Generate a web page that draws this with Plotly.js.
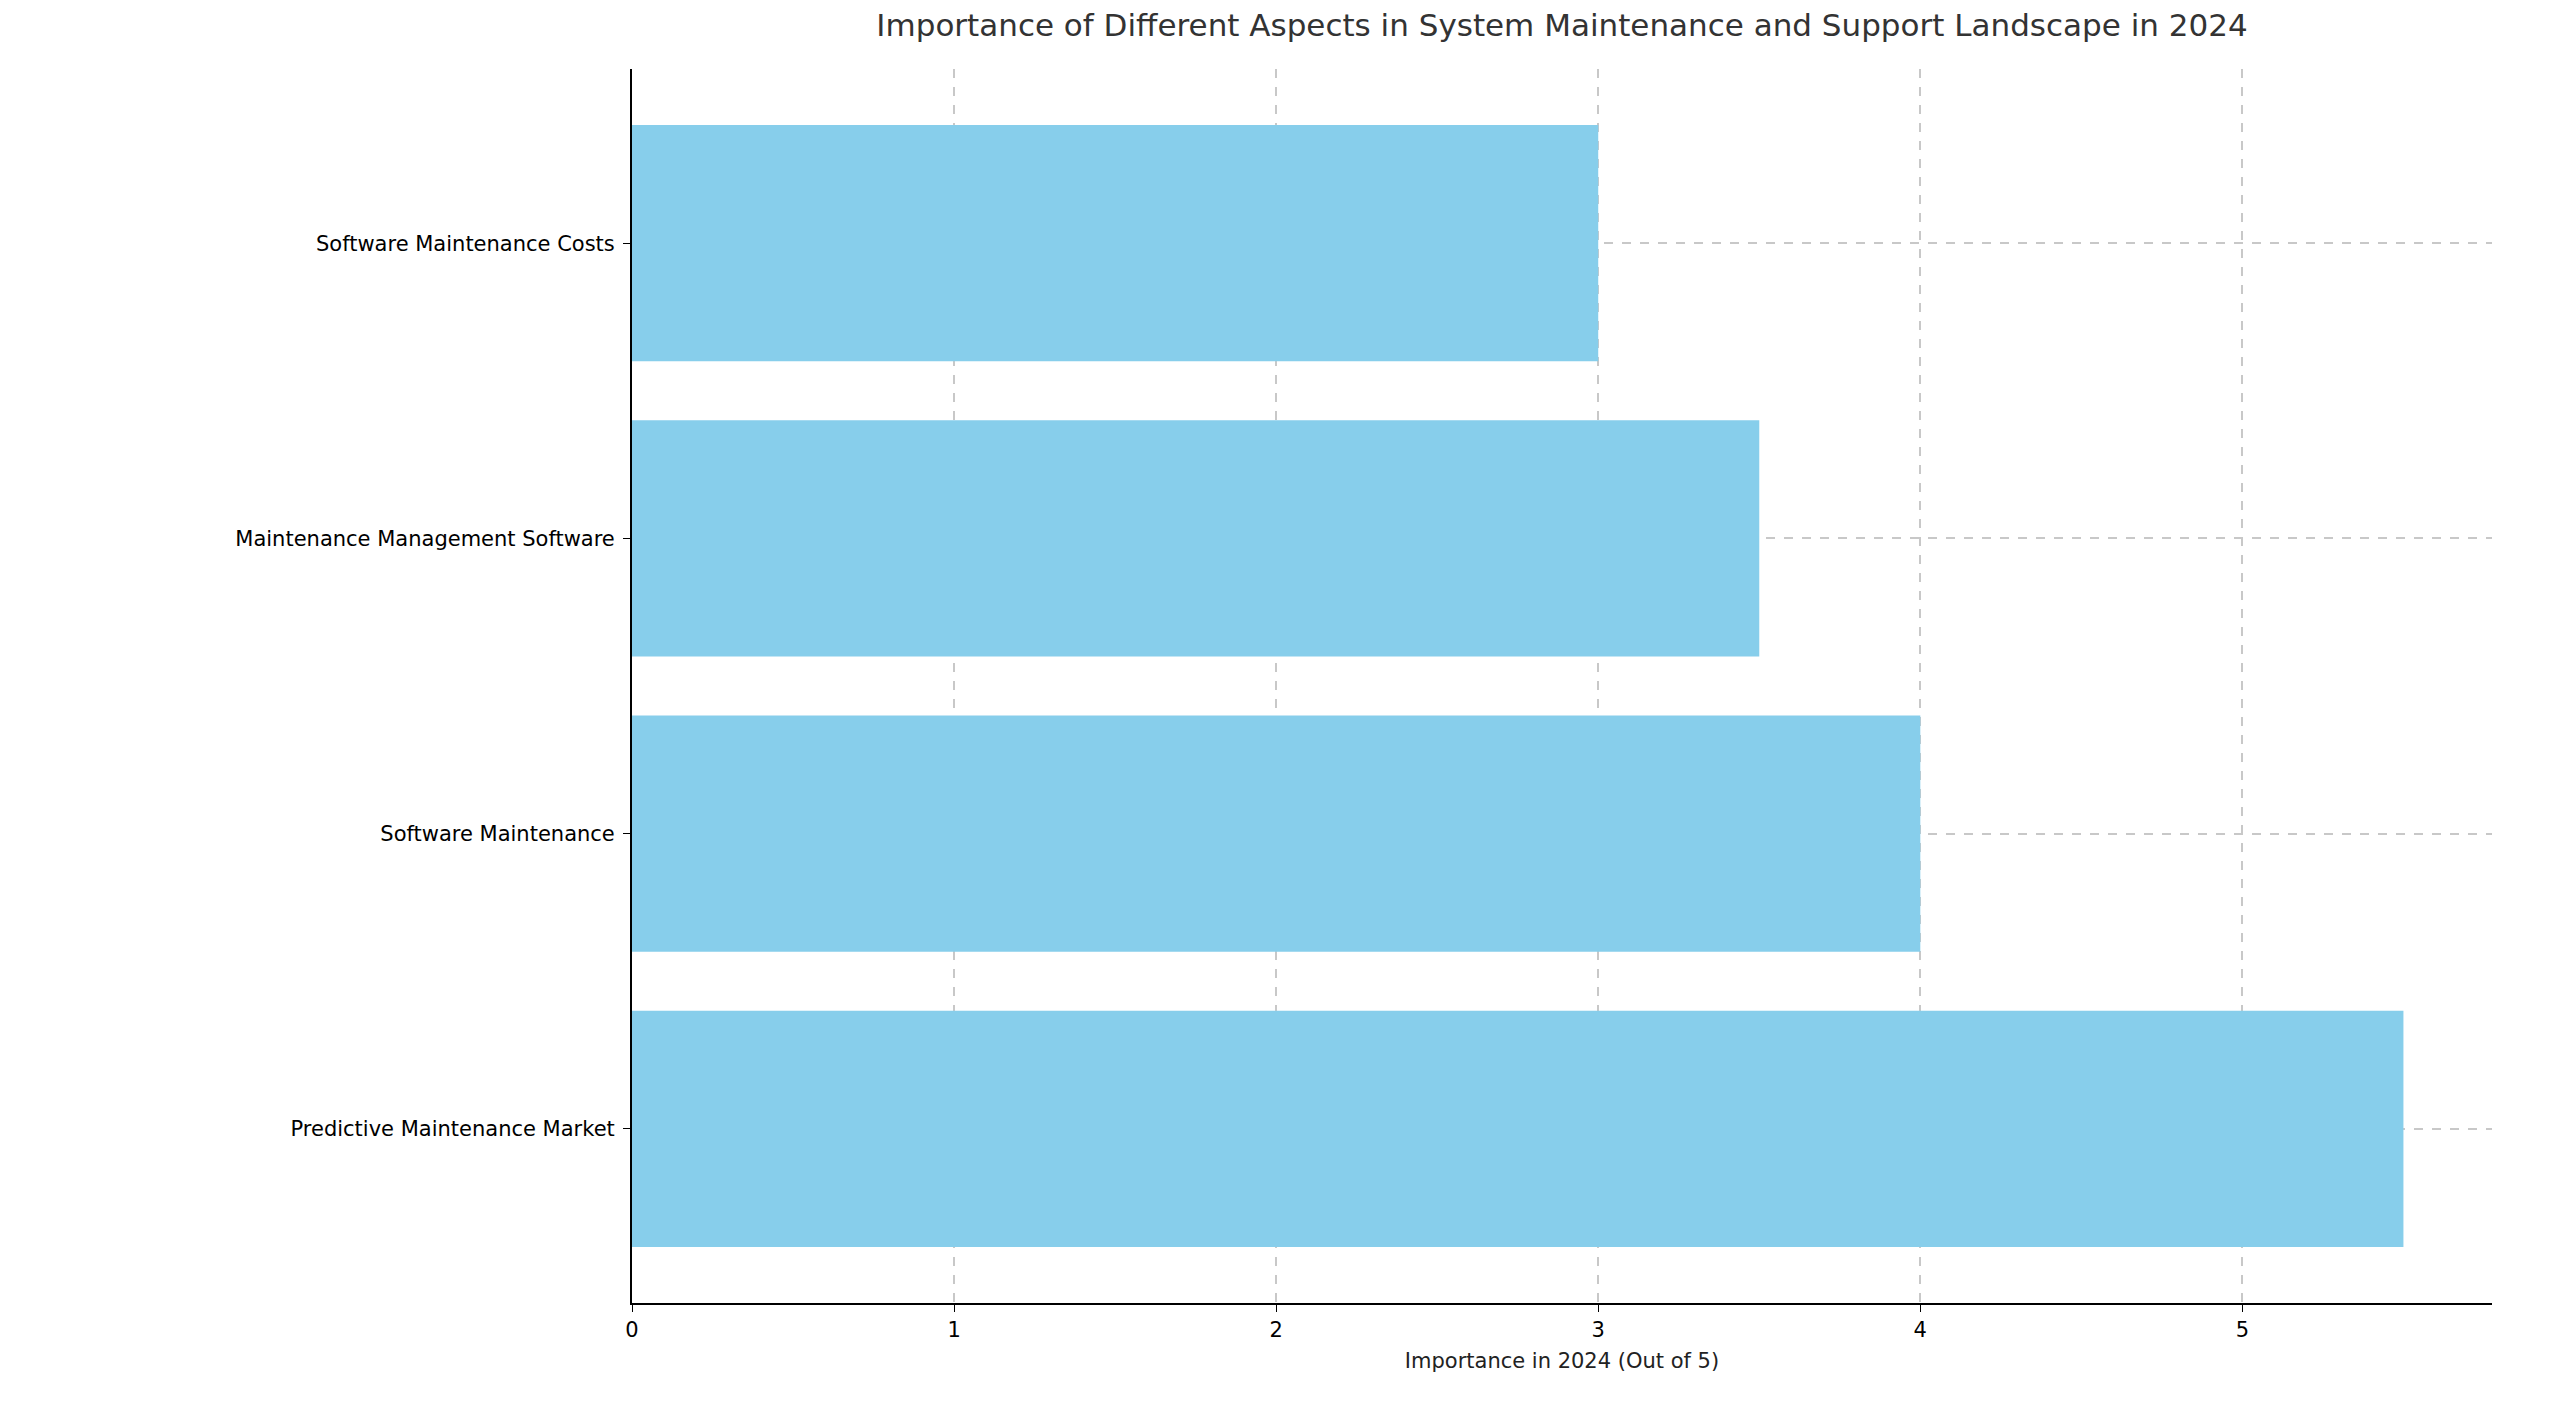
<!DOCTYPE html>
<html>
<head>
<meta charset="utf-8">
<script src="https://cdn.plot.ly/plotly-3.0.1.min.js"></script>
<style>html,body{margin:0;padding:0;background:#fff;}#plot{width:2566px;height:1409px;}</style>
</head>
<body>
<div id="plot"></div>
<script>
const categories = ['Predictive Maintenance Market', 'Software Maintenance', 'Maintenance Management Software', 'Software Maintenance Costs'];
const importance = [5.5, 4, 3.5, 3];
const xTicks = [0, 1, 2, 3, 4, 5];

const font = 'DejaVu Sans, sans-serif';

Plotly.newPlot('plot', [{
    type: 'bar',
    orientation: 'h',
    x: importance,
    y: categories,
    width: 0.8,
    marker: { color: '#87CEEB' },
    hoverinfo: 'skip'
}], {
    width: 2566,
    height: 1409,
    margin: { l: 632, r: 74, t: 69, b: 106 },
    paper_bgcolor: '#fff',
    plot_bgcolor: '#fff',
    font: { family: font, size: 21, color: '#000' },
    title: {
        text: 'Importance of Different Aspects in System Maintenance and Support Landscape in 2024',
        font: { family: font, size: 31, color: '#333' },
        x: 0.5, xref: 'paper', y: 0.99, yref: 'container', yanchor: 'top'
    },
    xaxis: {
        range: [0, 5.775],
        tickvals: xTicks,
        ticks: 'outside', ticklen: 7, tickcolor: '#000',
        showline: true, linecolor: '#000', linewidth: 2,
        showgrid: true, gridcolor: '#c8c8c8', griddash: 'dash', gridwidth: 1.5,
        zeroline: false,
        layer: 'above traces',
        title: { text: 'Importance in 2024 (Out of 5)', font: { family: font, size: 21, color: '#222' }, standoff: 12 }
    },
    yaxis: {
        type: 'category',
        range: [-0.59, 3.59],
        ticks: 'outside', ticklen: 7, tickcolor: '#000',
        showline: true, linecolor: '#000', linewidth: 2,
        showgrid: true, gridcolor: '#c8c8c8', griddash: 'dash', gridwidth: 1.5,
        zeroline: false,
        layer: 'above traces',
        ticklabelstandoff: 4
    },
    showlegend: false,
    bargap: 0.2
}, { displayModeBar: false });
</script>
</body>
</html>
